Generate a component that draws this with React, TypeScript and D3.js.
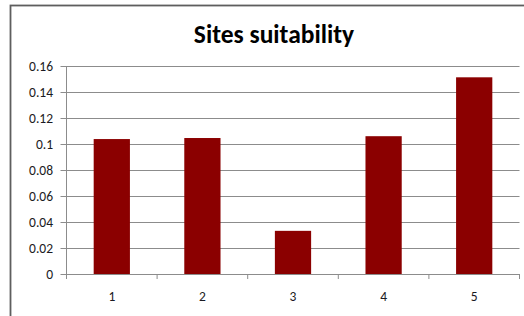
import React from "react";
import * as d3 from "d3";

const categories = ["1", "2", "3", "4", "5"];
const values = [0.1038, 0.1046, 0.0332, 0.106, 0.1513];
const yTicks = [0, 0.02, 0.04, 0.06, 0.08, 0.1, 0.12, 0.14, 0.16];
const title = "Sites suitability";

export default function App() {
  const W = 524, H = 316;
  const left = 66.5, right = 519.5, top = 66, bottom = 274;
  const x = d3.scaleBand().domain(categories).range([left, right]).paddingInner(0.6).paddingOuter(0.3);
  const xb = d3.scaleBand().domain(categories).range([left, right]);
  const y = d3.scaleLinear().domain([0, 0.16]).range([bottom, top]);
  const font = "Carlito, 'Liberation Sans', 'Open Sans', sans-serif";
  return (
    <svg width={W} height={H} style={{ position: "absolute", left: 0, top: 0, background: "#fff" }}>
      <rect x={10.5} y={5.5} width={W} height={H} fill="#fff" stroke="#5e5e5e" strokeWidth={1.8} />
      <text x={274} y={43} textAnchor="middle" fontFamily={font} fontWeight="bold" fontSize={25.5} fill="#000">{title}</text>
      {yTicks.map((t) => (
        <g key={t}>
          <line x1={left - 6} x2={right} y1={Math.round(y(t)) + 0.5} y2={Math.round(y(t)) + 0.5} stroke="#8c8c8c" strokeWidth={1} />
          <text x={53} y={y(t) + 4.5} textAnchor="end" fontFamily={font} fontSize={13.5} fill="#1a1a22">{String(t)}</text>
        </g>
      ))}
      <line x1={left} x2={left} y1={top} y2={bottom} stroke="#8c8c8c" />
      {values.map((v, i) => (
        <rect key={i} x={x(categories[i])} y={y(v)} width={x.bandwidth()} height={bottom - y(v)} fill="#8b0000" />
      ))}
      {categories.map((c) => (
        <line key={"t" + c} x1={xb(c)} x2={xb(c)} y1={bottom} y2={bottom + 5} stroke="#8c8c8c" />
      ))}
      <line x1={right} x2={right} y1={bottom} y2={bottom + 5} stroke="#8c8c8c" />
      <line x1={left} x2={right} y1={bottom + 0.5} y2={bottom + 0.5} stroke="#8c8c8c" />
      {categories.map((c) => (
        <text key={"l" + c} x={(x(c) as number) + x.bandwidth() / 2} y={301} textAnchor="middle" fontFamily={font} fontSize={13.5} fill="#1a1a22">{c}</text>
      ))}
    </svg>
  );
}
